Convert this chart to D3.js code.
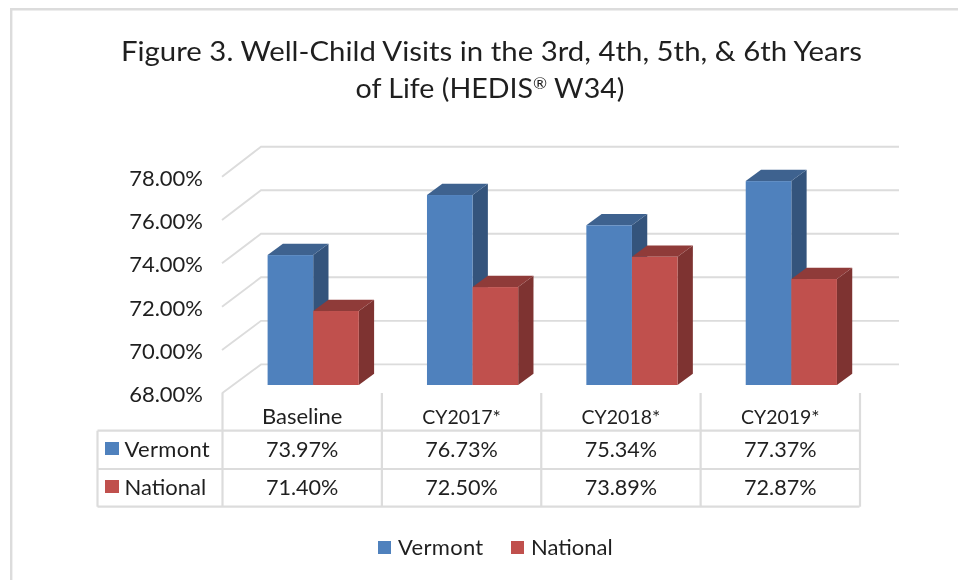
<!DOCTYPE html>
<html><head><meta charset="utf-8">
<script src="https://cdnjs.cloudflare.com/ajax/libs/d3/7.8.5/d3.min.js"></script>
<style>html,body{margin:0;padding:0;background:#fff}svg{display:block;filter:blur(0.35px)}text{font-family:Lato,Carlito,"Open Sans",sans-serif;fill:#1f1f1f}</style>
</head><body><svg id="c" width="958" height="580"></svg>
<script>
const categories = ["Baseline","CY2017*","CY2018*","CY2019*"];
const seriesNames = ["Vermont","National"];
const vermont = [73.97,76.73,75.34,77.37];
const national = [71.40,72.50,73.89,72.87];
const yTicks = [68,70,72,74,76,78];
const titleLines = ["Figure 3. Well-Child Visits in the 3rd, 4th, 5th, & 6th Years","of Life (HEDIS"];
const palette = {Vermont:{front:"#4f81bd",side:"#34547c",top:"#3e628f"},National:{front:"#c0504d",side:"#7e3331",top:"#8f3b39"}};
const values = {Vermont:vermont,National:national};

const svg = d3.select("#c");
const grey = "#dcdcdc";
svg.append("path").attr("d","M11.2,580V9.2H958").attr("fill","none").attr("stroke",grey).attr("stroke-width",2.4);

// title
const t = svg.append("g").attr("text-anchor","middle").style("font-size","27px");
t.append("text").attr("x",491.5).attr("y",61).text(titleLines[0]).attr("textLength",741).attr("lengthAdjust","spacingAndGlyphs");
const t2 = t.append("text").attr("x",490).attr("y",98).attr("textLength",269).attr("lengthAdjust","spacingAndGlyphs");
t2.append("tspan").text(titleLines[1]);
t2.append("tspan").text("®").attr("dy",-9).style("font-size","16px");
t2.append("tspan").text(" W34)").attr("dy",9);

// scales: wall front edge, wall back edge, and the mid-depth plane the bars stand on
const y = d3.scaleLinear().domain([68,78]).range([393.3,176.7]);
const yBack = d3.scaleLinear().domain([68,78]).range([364.4,146.7]);
const yBar = d3.scaleLinear().domain([68,78]).range([385,167.4]);
const x = d3.scaleBand().domain(categories).range([222,859.5]);
const wallDx = 39;
const inner = d3.scaleBand().domain(seriesNames).range([45.6,136.8]);
const bar = {dx:15.3,dy:-11.3};

// gridlines
const grid = svg.append("g").attr("fill","none").attr("stroke",grey).attr("stroke-width",1.9);
yTicks.forEach(v=>{
  grid.append("path").attr("d",`M${x.range()[0]},${y(v)}L${x.range()[0]+wallDx},${yBack(v)}H899`);
});

// y axis labels
const ax = svg.append("g").attr("transform","translate(203,0)")
  .call(d3.axisLeft(y).tickValues(yTicks).tickSize(0).tickPadding(0).tickFormat(d=>d3.format(".2f")(d)+"%"));
ax.select(".domain").remove();
ax.selectAll("text").style("font-size","22px").style("font-family","Lato,Carlito,sans-serif").attr("fill","#333").attr("dy","0.38em");

// bars
const gBars = svg.append("g");
categories.forEach((c,i)=>{
  seriesNames.forEach(s=>{
    const v = values[s][i], col = palette[s];
    const x0 = x(c)+inner(s), w = inner.bandwidth(), y0 = yBar(68), y1 = yBar(v);
    const g = gBars.append("g");
    g.append("path").attr("fill",col.side).attr("d",`M${x0+w},${y1}l${bar.dx},${bar.dy}V${y0+bar.dy}l${-bar.dx},${-bar.dy}Z`);
    g.append("path").attr("fill",col.top).attr("d",`M${x0},${y1}l${bar.dx},${bar.dy}h${w}l${-bar.dx},${-bar.dy}Z`);
    g.append("rect").attr("x",x0).attr("y",y1).attr("width",w).attr("height",y0-y1).attr("fill",col.front);
  });
});

// data table
const rows = [430.7,469,506.7], left = 97.5;
const tb = svg.append("g").attr("stroke",grey).attr("stroke-width",2.2).attr("fill","none");
rows.forEach(r=>tb.append("line").attr("x1",left).attr("x2",859.5).attr("y1",r).attr("y2",r));
tb.append("line").attr("x1",left).attr("x2",left).attr("y1",rows[0]).attr("y2",rows[2]);
categories.concat("end").forEach((c,i)=>{
  const xx = i<4 ? x(c) : x.range()[1];
  tb.append("line").attr("x1",xx+0.5).attr("x2",xx+0.5).attr("y1",393).attr("y2",rows[2]);
});
const fs = "22px";
categories.forEach((c,i)=>{
  svg.append("text").attr("x",x(c)+x.bandwidth()/2+0.5).attr("y",424).attr("text-anchor","middle").style("font-size",i===0?fs:"19.5px").text(c);
  seriesNames.forEach((s,j)=>{
    svg.append("text").attr("x",x(c)+x.bandwidth()/2+0.5).attr("y",456.5+j*38).attr("text-anchor","middle").style("font-size","21.6px")
      .text(d3.format(".2f")(values[s][i])+"%");
  });
});
seriesNames.forEach((s,j)=>{
  svg.append("rect").attr("x",105).attr("y",442+j*38).attr("width",14).attr("height",13).attr("fill",palette[s].front);
  svg.append("text").attr("x",124.5).attr("y",456.5+j*38).style("font-size",fs).style("letter-spacing",j?"0":"0.3px").text(s);
});

// legend
const legendX = [378,511];
seriesNames.forEach((s,j)=>{
  svg.append("rect").attr("x",legendX[j]).attr("y",541).attr("width",13).attr("height",13).attr("fill",palette[s].front);
  svg.append("text").attr("x",legendX[j]+20).attr("y",554.5).style("font-size",fs).style("letter-spacing",j?"0":"0.3px").text(s);
});
</script></body></html>
